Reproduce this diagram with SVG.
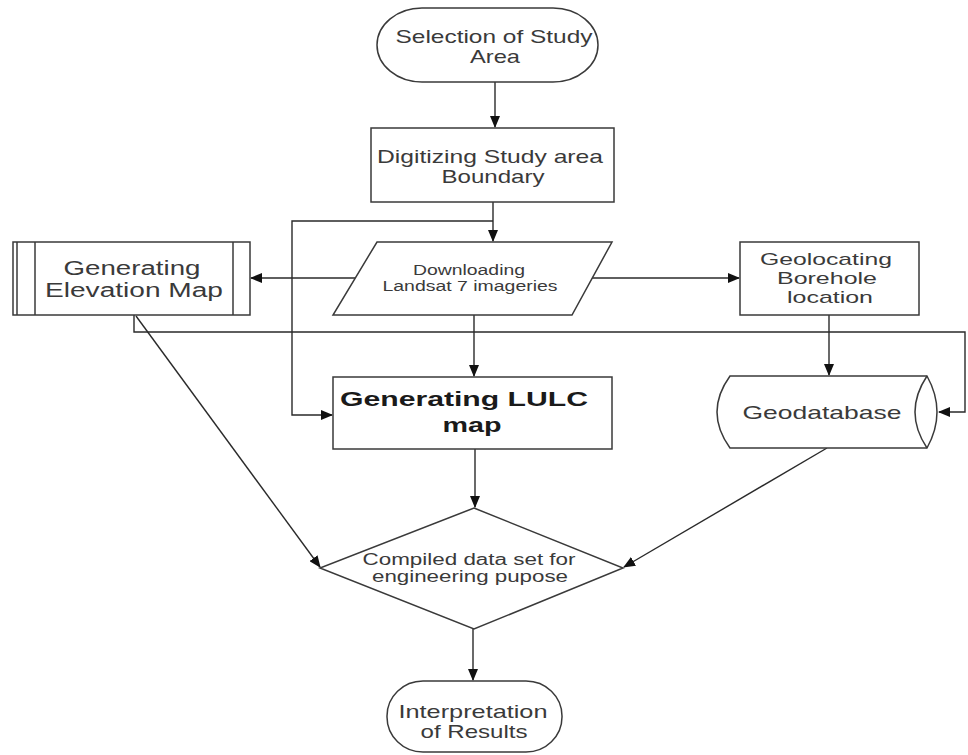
<svg xmlns="http://www.w3.org/2000/svg" width="968" height="755" viewBox="0 0 968 755">
<style>
.s{fill:#fff;stroke:#3a3a3a;stroke-width:1.5}
.c{fill:none;stroke:#2a2a2a;stroke-width:1.4}
.t{font-family:"Liberation Sans",Arial,sans-serif;fill:#3a3a3a;text-anchor:middle}
.b{font-weight:bold;fill:#1a1a1a}
</style>
<defs>
<marker id="a" markerWidth="12" markerHeight="10" refX="11" refY="5" orient="auto" markerUnits="userSpaceOnUse">
<path d="M0,0 L12,5 L0,10 Z" fill="#111"/>
</marker>
</defs>
<rect width="968" height="755" fill="#fff"/>
<g id="connectors">
<path class="c" d="M495,82 V127" marker-end="url(#a)"/>
<path class="c" d="M493,202 V241" marker-end="url(#a)"/>
<path class="c" d="M493,221 H292 V415 H332" marker-end="url(#a)"/>
<path class="c" d="M355,278 H251" marker-end="url(#a)"/>
<path class="c" d="M592,278 H739" marker-end="url(#a)"/>
<path class="c" d="M474,315 V376" marker-end="url(#a)"/>
<path class="c" d="M829,315 V375" marker-end="url(#a)"/>
<path class="c" d="M134,315 V332 H965 V412 H939" marker-end="url(#a)"/>
<path class="c" d="M136,316 L320,567" marker-end="url(#a)"/>
<path class="c" d="M475,449 V507" marker-end="url(#a)"/>
<path class="c" d="M827,448 L624,567" marker-end="url(#a)"/>
<path class="c" d="M473,629 V680" marker-end="url(#a)"/>
</g>
<g id="selection">
<rect class="s" x="377" y="8" width="221" height="74" rx="45" ry="37"/>
<text class="t" x="494" y="43" font-size="19" textLength="197" lengthAdjust="spacingAndGlyphs">Selection of Study</text>
<text class="t" x="495" y="63" font-size="19" textLength="50" lengthAdjust="spacingAndGlyphs">Area</text>
</g>
<g id="digitizing">
<rect class="s" x="371" y="128" width="243" height="74"/>
<text class="t" x="490" y="163" font-size="19" textLength="226" lengthAdjust="spacingAndGlyphs">Digitizing Study area</text>
<text class="t" x="493" y="183" font-size="19" textLength="103" lengthAdjust="spacingAndGlyphs">Boundary</text>
</g>
<g id="downloading">
<polygon class="s" points="377,242 612,242 572,315 333,315"/>
<text class="t" x="469" y="275" font-size="14" textLength="112" lengthAdjust="spacingAndGlyphs">Downloading</text>
<text class="t" x="470" y="291" font-size="14" textLength="175" lengthAdjust="spacingAndGlyphs">Landsat 7 imageries</text>
</g>
<g id="elevation">
<rect class="s" x="13" y="242" width="237" height="73"/>
<line class="s" x1="17" y1="242" x2="17" y2="315"/>
<line class="s" x1="35" y1="242" x2="35" y2="315"/>
<line class="s" x1="233" y1="242" x2="233" y2="315"/>
<text class="t" x="132" y="275" font-size="20" textLength="137" lengthAdjust="spacingAndGlyphs">Generating</text>
<text class="t" x="134" y="297" font-size="20" textLength="178" lengthAdjust="spacingAndGlyphs">Elevation Map</text>
</g>
<g id="geolocating">
<rect class="s" x="740" y="242" width="179" height="73"/>
<text class="t" x="826" y="265" font-size="17" textLength="132" lengthAdjust="spacingAndGlyphs">Geolocating</text>
<text class="t" x="827" y="284" font-size="17" textLength="100" lengthAdjust="spacingAndGlyphs">Borehole</text>
<text class="t" x="830" y="303" font-size="17" textLength="86" lengthAdjust="spacingAndGlyphs">location</text>
</g>
<g id="lulc">
<rect class="s" x="333" y="377" width="279" height="72"/>
<text class="t b" x="464" y="406" font-size="21" textLength="248" lengthAdjust="spacingAndGlyphs">Generating LULC</text>
<text class="t b" x="472" y="432" font-size="21" textLength="59" lengthAdjust="spacingAndGlyphs">map</text>
</g>
<g id="geodatabase">
<path class="s" d="M730,376 L927,376 Q947,412 927,448 L730,448 Q704,412 730,376 Z"/>
<path class="s" fill="none" d="M927,376 Q903,412 927,448"/>
<text class="t" x="822" y="419" font-size="19" textLength="159" lengthAdjust="spacingAndGlyphs">Geodatabase</text>
</g>
<g id="compiled">
<polygon class="s" points="474,508 623,568 474,629 320,568"/>
<text class="t" x="469" y="565" font-size="16" textLength="213" lengthAdjust="spacingAndGlyphs">Compiled data set for</text>
<text class="t" x="470" y="582" font-size="16" textLength="196" lengthAdjust="spacingAndGlyphs">engineering pupose</text>
</g>
<g id="interpretation">
<rect class="s" x="387" y="681" width="175" height="71" rx="36" ry="35"/>
<text class="t" x="473" y="718" font-size="19" textLength="149" lengthAdjust="spacingAndGlyphs">Interpretation</text>
<text class="t" x="474" y="738" font-size="19" textLength="107" lengthAdjust="spacingAndGlyphs">of Results</text>
</g>
</svg>
